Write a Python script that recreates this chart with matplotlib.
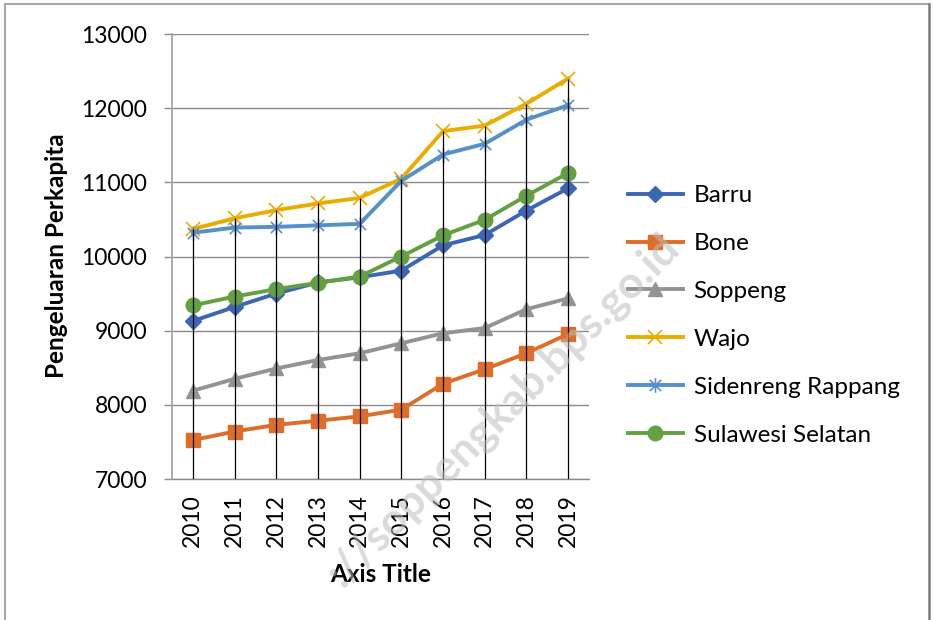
import numpy as np
import matplotlib
matplotlib.use("Agg")
import matplotlib.pyplot as plt
from matplotlib.path import Path
from matplotlib.lines import Line2D

plt.rcParams['font.family'] = ['Lato', 'DejaVu Sans']

years = ['2010', '2011', '2012', '2013', '2014', '2015', '2016', '2017', '2018', '2019']
barru = [9130, 9320, 9500, 9650, 9720, 9810, 10150, 10290, 10620, 10920]
bone = [7525, 7640, 7730, 7785, 7845, 7935, 8285, 8480, 8695, 8955]
soppeng = [8190, 8350, 8490, 8605, 8695, 8830, 8965, 9035, 9290, 9435]
wajo = [10370, 10515, 10625, 10715, 10790, 11050, 11690, 11765, 12060, 12400]
sidrap = [10320, 10390, 10400, 10420, 10440, 11020, 11375, 11520, 11845, 12040]
sulsel = [9340, 9460, 9560, 9645, 9730, 10000, 10285, 10495, 10820, 11125]

# asterisk marker like excel (x with a vertical bar)
star = Path([(-1, -1), (1, 1), (-1, 1), (1, -1), (0, -1.3), (0, 1.3)],
            [Path.MOVETO, Path.LINETO, Path.MOVETO, Path.LINETO, Path.MOVETO, Path.LINETO])

series = [
    ('Barru', barru, '#3c66b3', 'D', 8, 1),
    ('Bone', bone, '#dd6d29', 's', 10, 1),
    ('Soppeng', soppeng, '#939393', '^', 10.5, 1),
    ('Wajo', wajo, '#e8ad00', 'x', 10.5, 1.2),
    ('Sidenreng Rappang', sidrap, '#5590c8', star, 10.5, 1.2),
    ('Sulawesi Selatan', sulsel, '#64a042', 'o', 10.5, 1),
]

fig = plt.figure(figsize=(9.33, 6.2), dpi=100)
ax = fig.add_axes([172/933, 1-479/620, 417/933, 445/620])

x = np.arange(len(years))
for name, vals, col, mk, ms, mew in series:
    ax.plot(x, vals, color=col, lw=2.8, marker=mk, ms=ms, mew=mew,
            mec=col, mfc=col, label=name, zorder=3)

# drop lines from top point down to the axis
tops = np.max([barru, bone, soppeng, wajo, sidrap, sulsel], axis=0)
ax.vlines(x, 7000, tops, color='black', lw=0.9, zorder=4)

ax.set_xlim(-0.5, len(years) - 0.5)
ax.set_ylim(7000, 13000)
ax.set_yticks(range(7000, 13001, 1000))
ax.set_xticks(x)
ax.set_xticklabels(years, rotation=90)
ax.grid(axis='y', color='#8a8a8a', lw=1.0)
ax.set_axisbelow(True)
for s in ['top', 'right']:
    ax.spines[s].set_visible(False)
ax.spines['left'].set_color('#a6a6a6')
ax.spines['left'].set_linewidth(1.3)
ax.spines['bottom'].set_color('#8a8a8a')
ax.spines['bottom'].set_linewidth(1.0)
ax.tick_params(axis='y', direction='out', length=6, width=1.0, color='#8a8a8a',
               pad=12, labelsize=16.5)
ax.tick_params(axis='x', length=0, pad=11, labelsize=16.5)

fig.text(57/933, 1-256/620, 'Pengeluaran Perkapita', rotation=90, ha='center',
         va='center', fontsize=17.5, fontweight='bold')
fig.text(381/933, 1-575/620, 'Axis Title', ha='center', va='center',
         fontsize=17.5, fontweight='bold')

leg = fig.legend(loc='upper left', bbox_to_anchor=(628/933, 1-185/620), frameon=False,
                 fontsize=17.5, handlelength=2.25, handletextpad=0.45, labelspacing=1.11,
                 borderpad=0, borderaxespad=0)

# watermark
fig.text(503/933, 1-410/620, '://soppengkab.bps.go.id', rotation=45, ha='center',
         va='center', fontsize=32, fontweight='bold', color='#bdbdbd', alpha=0.55,
         zorder=10)

# outer border
fig.add_artist(Line2D([5/933, 5/933], [0, 1-4/620], color='#a8a8a8', lw=1.5))
fig.add_artist(Line2D([5/933, 929/933], [1-4/620, 1-4/620], color='#a8a8a8', lw=1.5))
fig.add_artist(Line2D([929/933, 929/933], [0, 1-4/620], color='#7a7a7a', lw=1.8))

fig.savefig('out.png', dpi=100)
